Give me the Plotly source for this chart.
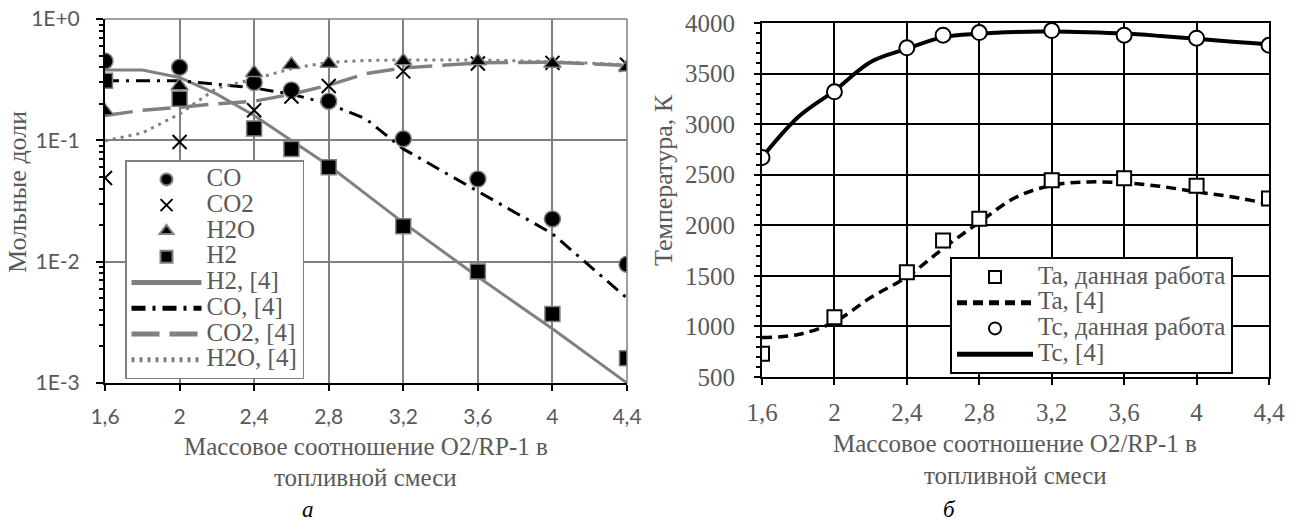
import plotly.graph_objects as go

# ---------------- Panel a: mole fractions (log scale) ----------------
x_pts = [1.6, 2.0, 2.4, 2.6, 2.8, 3.2, 3.6, 4.0, 4.4]
co_pts = [0.45, 0.40, 0.30, 0.26, 0.21, 0.103, 0.048, 0.0225, 0.0095]
co2_pts = [0.049, 0.097, 0.177, 0.23, 0.28, 0.37, 0.43, 0.435, 0.42]
h2o_pts = [0.174, 0.28, 0.36, 0.42, 0.43, 0.45, 0.45, 0.43, 0.40]
h2_pts = [0.31, 0.22, 0.125, 0.085, 0.060, 0.0196, 0.0083, 0.0037, 0.0016]

x_ref = [1.6, 1.8, 2.0, 2.2, 2.4, 2.6, 2.8, 3.0, 3.2, 3.6, 4.0, 4.4]
h2_ref = [0.38, 0.38, 0.33, 0.24, 0.16, 0.10, 0.062, 0.036, 0.021, 0.0075, 0.0028, 0.001]
co_ref = [0.31, 0.31, 0.31, 0.29, 0.27, 0.24, 0.20, 0.15, 0.085, 0.038, 0.017, 0.005]
co2_ref = [0.16, 0.177, 0.187, 0.20, 0.21, 0.24, 0.285, 0.355, 0.395, 0.435, 0.44, 0.415]
h2o_ref = [0.099, 0.115, 0.165, 0.27, 0.32, 0.39, 0.44, 0.455, 0.46, 0.46, 0.445, 0.42]

# ---------------- Panel b: temperatures ----------------
ta_pts = [730, 1090, 1535, 1850, 2065, 2445, 2465, 2390, 2265]
tc_pts = [2670, 3320, 3755, 3880, 3905, 3925, 3880, 3850, 3780]

x_ref_b = [1.6, 1.8, 2.0, 2.2, 2.4, 2.6, 2.8, 3.0, 3.2, 3.4, 3.6, 3.8, 4.0, 4.2, 4.4]
ta_ref = [890, 920, 1045, 1285, 1490, 1770, 2030, 2275, 2395, 2428, 2420, 2385, 2330, 2280, 2210]
tc_ref = [2670, 3070, 3330, 3615, 3745, 3860, 3895, 3912, 3915, 3908, 3895, 3872, 3845, 3815, 3790]

# ---------------- ticks ----------------
x_tickvals = [1.6, 2.0, 2.4, 2.8, 3.2, 3.6, 4.0, 4.4]
x_ticktext = ["1,6", "2", "2,4", "2,8", "3,2", "3,6", "4", "4,4"]
ya_tickvals = [0.001, 0.01, 0.1, 1]
ya_ticktext = ["1E-3", "1E-2", "1E-1", "1E+0"]
ya_minor = [k * 10.0 ** e for e in (-3, -2, -1) for k in range(2, 10)]

W, H = 1300, 524
GREY = "#808080"
TXT = "#595959"
SERIF = "Liberation Serif"


def leg(name, size=25):
    return f'<span style="font-size:{size}px">{name}</span>'


fig = go.Figure()

# ----- panel a lines -----
fig.add_trace(go.Scatter(x=x_ref, y=h2_ref, mode="lines", name=leg("H2, [4]"),
                         line=dict(color=GREY, width=3), legendrank=5, legend="legend"))
fig.add_trace(go.Scatter(x=x_ref, y=co_ref, mode="lines", name=leg("CO, [4]"),
                         line=dict(color="black", width=3, dash="14px,7px,3px,7px"),
                         legendrank=6, legend="legend"))
fig.add_trace(go.Scatter(x=x_ref, y=co2_ref, mode="lines", name=leg("CO2, [4]"),
                         line=dict(color=GREY, width=3.5, dash="28px,10px"),
                         legendrank=7, legend="legend"))
fig.add_trace(go.Scatter(x=x_ref, y=h2o_ref, mode="lines", name=leg("H2O, [4]"),
                         line=dict(color=GREY, width=3, dash="3px,5px"),
                         legendrank=8, legend="legend"))
# ----- panel a markers -----
fig.add_trace(go.Scatter(x=x_pts, y=co_pts, mode="markers", name=leg("CO"),
                         marker=dict(symbol="circle", size=16, color="black",
                                     line=dict(color=GREY, width=1.5)),
                         legendrank=1, legend="legend"))
fig.add_trace(go.Scatter(x=x_pts, y=co2_pts, mode="markers", name=leg("CO2"),
                         marker=dict(symbol="x-thin", size=14, color="black",
                                     line=dict(color="black", width=2)),
                         legendrank=2, legend="legend"))
fig.add_trace(go.Scatter(x=x_pts, y=h2o_pts, mode="markers", name=leg("H2O"),
                         marker=dict(symbol="triangle-up", size=15, color="black",
                                     line=dict(color=GREY, width=1.5)),
                         legendrank=3, legend="legend"))
fig.add_trace(go.Scatter(x=x_pts, y=h2_pts, mode="markers", name=leg("H2"),
                         marker=dict(symbol="square", size=15, color="black",
                                     line=dict(color=GREY, width=1.5)),
                         legendrank=4, legend="legend"))

# ----- panel b -----
fig.add_trace(go.Scatter(x=x_ref_b, y=ta_ref, mode="lines", name=leg("Ta, [4]"),
                         line=dict(color="black", width=3.5, dash="10px,6px", shape="spline"),
                         xaxis="x2", yaxis="y2", legendrank=2, legend="legend2"))
fig.add_trace(go.Scatter(x=x_ref_b, y=tc_ref, mode="lines", name=leg("Tc, [4]"),
                         line=dict(color="black", width=4, shape="spline"),
                         xaxis="x2", yaxis="y2", legendrank=4, legend="legend2"))
fig.add_trace(go.Scatter(x=x_pts, y=ta_pts, mode="markers", name=leg("Ta, данная работа"),
                         marker=dict(symbol="square", size=14, color="white",
                                     line=dict(color="black", width=2)),
                         xaxis="x2", yaxis="y2", legendrank=1, legend="legend2"))
fig.add_trace(go.Scatter(x=x_pts, y=tc_pts, mode="markers", name=leg("Tc, данная работа"),
                         marker=dict(symbol="circle", size=15, color="white",
                                     line=dict(color="black", width=2)),
                         xaxis="x2", yaxis="y2", legendrank=3, legend="legend2"))

xa_dom = [105 / W, 627 / W]
ya_dom = [1 - 383 / H, 1 - 19 / H]
xb_dom = [762 / W, 1269 / W]
yb_dom = [1 - 377 / H, 1 - 23 / H]

fig.update_layout(
    width=W, height=H,
    margin=dict(l=0, r=0, t=0, b=0, autoexpand=False),
    paper_bgcolor="white", plot_bgcolor="white",
    showlegend=True,
    xaxis=dict(domain=xa_dom, range=[1.6, 4.4], anchor="y", automargin=False,
               tickmode="array", tickvals=x_tickvals, ticktext=x_ticktext,
               showgrid=True, gridcolor=GREY, gridwidth=1.5, zeroline=False,
               showline=True, linecolor="black", linewidth=2,
               ticks="outside", ticklen=6, tickwidth=2, tickcolor="black",
               ticklabelstandoff=8,
               tickfont=dict(family="Lato", size=21, color=TXT)),
    yaxis=dict(domain=ya_dom, type="log", range=[-3, 0], anchor="x", automargin=False,
               tickmode="array", tickvals=ya_tickvals, ticktext=ya_ticktext,
               showgrid=True, gridcolor=GREY, gridwidth=1.5, zeroline=False,
               showline=True, linecolor="black", linewidth=2,
               ticks="outside", ticklen=7, tickwidth=2, tickcolor="black",
               ticklabelstandoff=12,
               minor=dict(tickmode="array", tickvals=ya_minor, ticks="outside",
                          ticklen=4, tickwidth=1.5, tickcolor="black", showgrid=False),
               tickfont=dict(family="Lato", size=21, color=TXT)),
    xaxis2=dict(domain=xb_dom, range=[1.6, 4.4], anchor="y2", automargin=False,
                tickmode="array", tickvals=x_tickvals, ticktext=x_ticktext,
                showgrid=True, gridcolor="black", gridwidth=2, zeroline=False,
                showline=True, mirror=True, linecolor="black", linewidth=2,
                ticks="outside", ticklen=6, tickwidth=2, tickcolor="black",
                ticklabelstandoff=6,
                tickfont=dict(family=SERIF, size=25, color=TXT)),
    yaxis2=dict(domain=yb_dom, range=[500, 4000], anchor="x2", automargin=False,
                tickmode="linear", tick0=500, dtick=500,
                showgrid=True, gridcolor="black", gridwidth=2, zeroline=False,
                showline=True, mirror=True, linecolor="black", linewidth=2,
                ticks="outside", ticklen=6, tickwidth=2, tickcolor="black",
                ticklabelstandoff=14,
                minor=dict(dtick=100, ticks="outside", ticklen=4, tickwidth=1.5,
                           tickcolor="black", showgrid=False),
                tickfont=dict(family=SERIF, size=25, color=TXT)),
    legend=dict(x=125 / W, y=1 - 160 / H, xanchor="left", yanchor="top",
                bgcolor="white", bordercolor=GREY, borderwidth=1.5,
                font=dict(family=SERIF, size=17.5, color=TXT),
                itemsizing="constant", itemwidth=70, tracegroupgap=0),
    legend2=dict(x=950 / W, y=1 - 257 / H, xanchor="left", yanchor="top",
                 bgcolor="white", bordercolor="black", borderwidth=2,
                 font=dict(family=SERIF, size=17.5, color=TXT),
                 itemsizing="constant", itemwidth=76, tracegroupgap=0),
)

# frame of panel a (top and right edges, grey)
fig.add_shape(type="line", xref="x domain", yref="y domain", x0=0, x1=1, y0=1, y1=1,
              line=dict(color=GREY, width=1.5))
fig.add_shape(type="line", xref="x domain", yref="y domain", x0=1, x1=1, y0=0, y1=1,
              line=dict(color=GREY, width=1.5))

title_font = dict(family=SERIF, size=25, color=TXT)
ann = [
    dict(text="Массовое соотношение O2/RP-1 в", x=366 / W, y=1 - 446 / H),
    dict(text="топливной смеси", x=366 / W, y=1 - 477 / H),
    dict(text="Массовое соотношение O2/RP-1 в", x=1015 / W, y=1 - 443 / H),
    dict(text="топливной смеси", x=1015 / W, y=1 - 475 / H),
]
for a in ann:
    fig.add_annotation(xref="paper", yref="paper", showarrow=False, xanchor="center",
                       yanchor="middle", font=title_font, **a)

fig.add_annotation(text="Мольные доли", xref="paper", yref="paper", x=18 / W, y=1 - 192 / H,
                   textangle=-90, showarrow=False, xanchor="center", yanchor="middle",
                   font=dict(family=SERIF, size=26, color=TXT))
fig.add_annotation(text="Температура, К", xref="paper", yref="paper", x=663 / W, y=1 - 180 / H,
                   textangle=-90, showarrow=False, xanchor="center", yanchor="middle",
                   font=dict(family=SERIF, size=26, color=TXT))
fig.add_annotation(text="<i>а</i>", xref="paper", yref="paper", x=308 / W, y=1 - 509 / H,
                   showarrow=False, xanchor="center", yanchor="middle",
                   font=dict(family=SERIF, size=23, color="black"))
fig.add_annotation(text="<i>б</i>", xref="paper", yref="paper", x=949 / W, y=1 - 509 / H,
                   showarrow=False, xanchor="center", yanchor="middle",
                   font=dict(family=SERIF, size=23, color="black"))

fig.write_html("out.html", config={"displayModeBar": False},
               post_script="document.body.style.margin='0';")
